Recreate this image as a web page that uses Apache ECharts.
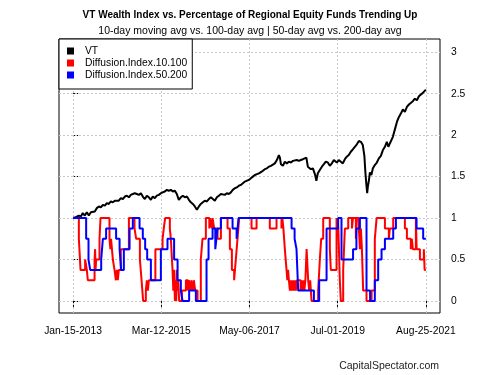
<!DOCTYPE html>
<html>
<head>
<meta charset="utf-8">
<script src="https://cdn.jsdelivr.net/npm/echarts@6/dist/echarts.min.js"></script>
<style>html,body{margin:0;padding:0;background:#fff}#c{width:500px;height:375px}</style>
</head>
<body>
<div id="c"></div>
<script>
// x values are days since 2013-01-15
const tickDays = [0, 786, 1572, 2358, 3144];
const tickLabels = ['Jan-15-2013', 'Mar-12-2015', 'May-06-2017', 'Jul-01-2019', 'Aug-25-2021'];
const yTicks = [0, 0.5, 1, 1.5, 2, 2.5, 3];
const seriesNames = ['VT', 'Diffusion.Index.10.100', 'Diffusion.Index.50.200'];

const vt = [[0,1.00],[24,1.01],[51,1.03],[69,1.02],[86,1.06],[104,1.03],[122,1.07],[140,1.03],[158,1.07],[175,1.09],[193,1.08],[211,1.12],[229,1.14],[247,1.13],[265,1.16],[283,1.15],[300,1.18],[318,1.17],[336,1.20],[354,1.19],[372,1.21],[389,1.22],[407,1.21],[425,1.24],[443,1.23],[461,1.26],[479,1.27],[497,1.25],[514,1.28],[532,1.29],[550,1.30],[568,1.29],[586,1.28],[604,1.30],[621,1.26],[639,1.23],[657,1.27],[675,1.25],[693,1.22],[710,1.26],[728,1.24],[746,1.27],[764,1.28],[782,1.30],[799,1.31],[817,1.32],[835,1.34],[853,1.33],[871,1.34],[889,1.32],[907,1.33],[924,1.29],[942,1.22],[960,1.25],[978,1.27],[996,1.25],[1014,1.26],[1032,1.22],[1049,1.19],[1067,1.17],[1085,1.14],[1103,1.10],[1121,1.14],[1138,1.17],[1156,1.19],[1174,1.21],[1192,1.20],[1210,1.23],[1228,1.25],[1245,1.24],[1263,1.21],[1281,1.25],[1299,1.27],[1317,1.29],[1334,1.30],[1352,1.28],[1370,1.30],[1388,1.29],[1406,1.31],[1423,1.34],[1441,1.36],[1459,1.37],[1477,1.39],[1495,1.40],[1513,1.42],[1531,1.44],[1548,1.45],[1566,1.46],[1584,1.48],[1602,1.50],[1620,1.52],[1638,1.53],[1656,1.54],[1673,1.56],[1691,1.57],[1709,1.59],[1727,1.60],[1745,1.62],[1763,1.63],[1780,1.64],[1798,1.66],[1816,1.70],[1834,1.76],[1843,1.73],[1852,1.65],[1861,1.67],[1870,1.63],[1887,1.68],[1905,1.66],[1923,1.68],[1941,1.67],[1959,1.69],[1976,1.68],[1994,1.70],[2012,1.69],[2030,1.70],[2048,1.71],[2065,1.70],[2079,1.73],[2092,1.62],[2106,1.64],[2119,1.59],[2137,1.60],[2155,1.53],[2168,1.45],[2181,1.54],[2199,1.58],[2217,1.62],[2235,1.65],[2252,1.68],[2270,1.67],[2288,1.63],[2306,1.66],[2324,1.70],[2341,1.72],[2350,1.67],[2368,1.70],[2386,1.68],[2404,1.66],[2422,1.71],[2439,1.74],[2457,1.76],[2475,1.80],[2493,1.83],[2511,1.86],[2529,1.89],[2547,1.93],[2565,1.92],[2582,1.88],[2596,1.75],[2605,1.55],[2614,1.40],[2621,1.30],[2627,1.38],[2636,1.45],[2645,1.55],[2658,1.52],[2672,1.60],[2689,1.64],[2707,1.67],[2725,1.72],[2743,1.75],[2761,1.82],[2779,1.86],[2796,1.92],[2810,1.86],[2823,1.90],[2837,1.88],[2850,1.98],[2868,2.07],[2886,2.16],[2904,2.22],[2921,2.26],[2939,2.31],[2957,2.28],[2975,2.34],[2993,2.37],[3010,2.35],[3028,2.41],[3046,2.44],[3064,2.42],[3082,2.47],[3099,2.48],[3117,2.51],[3131,2.50],[3144,2.55]];

const diff10 = [[0,1],[51,0.75],[66,0.375],[107,0.5],[122,0.375],[131,0.25],[191,0.5],[196,0.625],[200,0.375],[205,0.5],[235,0.75],[244,1],[324,0.75],[332,0.625],[338,0.75],[354,0.5],[369,0.375],[381,0.25],[390,0.375],[398,0.25],[407,0.375],[425,0.625],[497,1],[547,0.875],[562,0.75],[595,0.5],[610,0.25],[624,0],[648,0.125],[657,0.25],[666,0.125],[675,0.25],[733,0.625],[797,0.75],[808,0.875],[820,1],[862,0.875],[871,0.75],[886,0.375],[893,0.125],[900,0.375],[907,0],[913,0.25],[919,0],[924,0.375],[930,0.125],[937,0.25],[945,0],[969,0.125],[1005,0.25],[1023,0.125],[1032,0.25],[1045,0.125],[1054,0.25],[1067,0.125],[1076,0.25],[1088,0.125],[1109,0],[1138,0.5],[1153,0.75],[1183,1],[1214,0.875],[1221,1],[1236,0.875],[1243,1],[1257,0.875],[1287,0.75],[1317,1],[1376,0.875],[1397,0.625],[1415,0.375],[1435,0.25],[1450,0.5],[1465,0.75],[1480,1],[1590,0.875],[1635,1],[1753,0.875],[1813,1],[1857,0.875],[1865,1],[1874,0.875],[1887,0.625],[1902,0.375],[1909,0.25],[1916,0.375],[1923,0.25],[1932,0.125],[1941,0.25],[1950,0.125],[1959,0.25],[1967,0.125],[1976,0.25],[1985,0.125],[1994,0.25],[2027,0.125],[2034,0.25],[2043,0.125],[2052,0.25],[2061,0.125],[2070,0.25],[2081,0.625],[2095,0.25],[2104,0.125],[2113,0.25],[2125,0],[2184,0.125],[2199,0.5],[2211,0.75],[2229,1],[2288,0.625],[2297,0.375],[2348,1],[2364,0.875],[2377,0.25],[2386,0],[2407,0.375],[2422,0.875],[2452,1],[2485,0.875],[2494,1],[2520,0.75],[2529,1],[2547,0.875],[2556,0.625],[2565,0.875],[2574,0.625],[2585,0.125],[2615,0],[2660,0.125],[2689,0.75],[2705,1],[2779,0.875],[2814,0.75],[2823,0.875],[2853,1],[2957,0.875],[2975,0.75],[3010,0.625],[3019,0.75],[3028,0.625],[3055,1],[3062,0.625],[3091,0.5],[3126,0.625],[3133,0.375],[3144,0.375]];

const diff50 = [[0,1],[116,0.75],[137,0.5],[152,0.375],[250,0.5],[265,0.75],[294,0.875],[383,0.75],[414,0.625],[428,0.375],[452,0.625],[503,0.875],[532,1],[592,0.875],[621,0.75],[642,0.625],[660,0.5],[693,0.25],[782,0.625],[841,0.75],[900,0.5],[931,0.25],[960,0.125],[975,0],[1034,0.125],[1094,0],[1189,0.5],[1207,0.75],[1243,0.875],[1267,0.625],[1277,0.75],[1287,0.875],[1317,1],[1421,0.875],[1457,0.75],[1474,1],[1947,0.875],[1974,0.75],[1991,0.625],[2006,0.125],[2146,0],[2193,0.25],[2259,0.875],[2362,1],[2392,0.5],[2495,0.625],[2525,0.875],[2556,1],[2615,0.125],[2647,0],[2689,0.25],[2719,0.5],[2749,0.625],[2779,0.75],[2853,0.875],[2877,1],[3061,0.875],[3120,0.75],[3144,0.75]];

const FONT = '"Liberation Sans", Arial, sans-serif';
const GRID_STYLE = {color: '#c8c8c8', type: [2, 2], width: 1};
const chart = echarts.init(document.getElementById('c'), null, {renderer: 'canvas'});
chart.setOption({
  animation: false,
  backgroundColor: '#fff',
  textStyle: {fontFamily: FONT},
  title: {
    text: 'VT Wealth Index vs. Percentage of Regional Equity Funds Trending Up',
    subtext: '10-day moving avg vs. 100-day avg | 50-day avg vs. 200-day avg',
    left: 'center', top: 9, itemGap: 4, padding: 0,
    textStyle: {fontFamily: FONT, fontSize: 10, fontWeight: 'bold', color: '#000', lineHeight: 12},
    subtextStyle: {fontFamily: FONT, fontSize: 10.5, color: '#000', lineHeight: 12}
  },
  legend: {
    orient: 'vertical', left: 59, top: 39,
    padding: [6, 5, 8, 8], itemGap: 0,
    itemWidth: 7, itemHeight: 7, icon: 'rect',
    borderColor: '#000', borderWidth: 1, backgroundColor: '#fff', borderRadius: 0,
    textStyle: {fontFamily: FONT, fontSize: 10.3, color: '#000', lineHeight: 12, padding: [0, 0, 0, 6]},
    data: seriesNames
  },
  grid: {left: 59, right: 60, top: 39, bottom: 62, show: true, borderColor: '#000', borderWidth: 1, backgroundColor: 'transparent'},
  xAxis: {
    type: 'value', min: -126, max: 3270,
    axisLine: {show: false},
    axisTick: {show: true, length: 6, lineStyle: {color: '#000'}, customValues: tickDays},
    axisLabel: {customValues: tickDays, fontFamily: FONT, fontSize: 10.3, color: '#000', margin: 13,
      formatter: v => tickLabels[tickDays.indexOf(v)] || ''},
    splitLine: {show: false}
  },
  yAxis: {
    type: 'value', position: 'right', min: -0.145, max: 3.16,
    axisLine: {show: false},
    axisTick: {show: true, length: 5, lineStyle: {color: '#000'}, customValues: yTicks},
    axisLabel: {customValues: yTicks, fontFamily: FONT, fontSize: 10.3, color: '#000', margin: 11,
      formatter: v => String(v)},
    splitLine: {show: false}
  },
  series: [
    {name: 'grid', type: 'line', data: [], z: 1, silent: true,
      markLine: {silent: true, symbol: 'none', z: 1, label: {show: false}, lineStyle: GRID_STYLE,
        emphasis: {disabled: true},
        data: tickDays.map(d => ({xAxis: d})).concat(yTicks.map(v => ({yAxis: v})))}},
    {name: seriesNames[0], type: 'line', data: vt, showSymbol: false, lineStyle: {color: '#000', width: 2}, itemStyle: {color: '#000'}, z: 3},
    {name: seriesNames[1], type: 'line', step: 'end', data: diff10, showSymbol: false, lineStyle: {color: '#ff0000', width: 2}, itemStyle: {color: '#ff0000'}, z: 4},
    {name: seriesNames[2], type: 'line', step: 'end', data: diff50, showSymbol: false, lineStyle: {color: '#0000ff', width: 2}, itemStyle: {color: '#0000ff'}, z: 5}
  ],
  graphic: [{
    type: 'text', right: 61, top: 361,
    style: {text: 'CapitalSpectator.com', font: '10.5px ' + FONT, fill: '#222'}
  }]
});
</script>
</body>
</html>
